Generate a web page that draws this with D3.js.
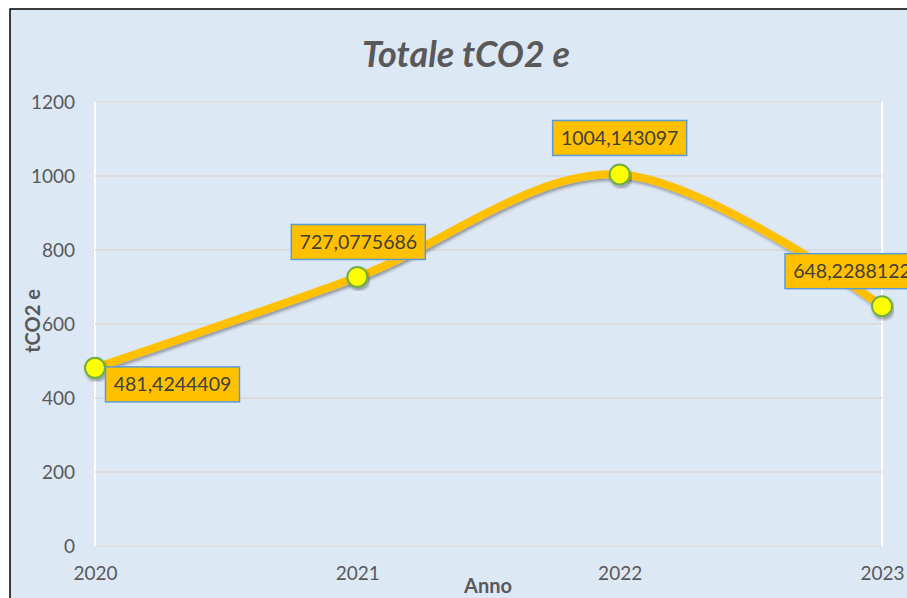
<!DOCTYPE html>
<html>
<head>
<meta charset="utf-8">
<script src="https://cdn.jsdelivr.net/npm/d3@7"></script>
<style>
  body { margin: 0; background: #fff; }
  text { font-family: Lato, "Open Sans", sans-serif; }
</style>
</head>
<body>
<div id="chart"></div>
<script>
var years = ["2020", "2021", "2022", "2023"];
var values = [481.4244409, 727.0775686, 1004.143097, 648.2288122];
var labels = ["481,4244409", "727,0775686", "1004,143097", "648,2288122"];
var yTicks = [0, 200, 400, 600, 800, 1000, 1200];

var W = 907, H = 598;
var margin = {top: 102, right: 25, bottom: 52, left: 95};
var width = W - margin.left - margin.right, height = H - margin.top - margin.bottom;

var svg = d3.select("#chart").append("svg").attr("width", W).attr("height", H);

var defs = svg.append("defs");
var f = defs.append("filter").attr("id", "shadow").attr("x", "-10%").attr("y", "-10%").attr("width", "120%").attr("height", "130%");
f.append("feDropShadow").attr("dx", 1.5).attr("dy", 2.5).attr("stdDeviation", 1.5).attr("flood-color", "#000").attr("flood-opacity", 0.35);

// chart area background with black border
svg.append("rect").attr("x", 10).attr("y", 9).attr("width", W).attr("height", H).attr("fill", "#dde8f5").attr("stroke", "#000").attr("stroke-width", 1.5);

svg.append("text").attr("x", 466).attr("y", 67).attr("text-anchor", "middle").attr("font-size", 36).attr("font-weight", "bold").attr("font-style", "italic").attr("fill", "#595959").text("Totale tCO2 e");

var g = svg.append("g").attr("transform", `translate(${margin.left},${margin.top})`);

var x = d3.scalePoint().domain(years).range([0, width]);
var y = d3.scaleLinear().domain([0, 1200]).range([height, 0]);

// plot area border (white)
g.append("rect").attr("x", 0).attr("y", 0).attr("width", width).attr("height", height).attr("fill", "none").attr("stroke", "#fff").attr("stroke-width", 2);

g.selectAll(".grid").data(yTicks).join("line").attr("class", "grid").attr("x1", 0).attr("x2", width).attr("y1", d => y(d)).attr("y2", d => y(d)).attr("stroke", "#d9d9d9").attr("stroke-width", 1.5);

var yAxis = g.append("g").call(d3.axisLeft(y).tickValues(yTicks).tickFormat(d3.format("d")).tickSize(0).tickPadding(20));
yAxis.select(".domain").remove();
yAxis.selectAll("text").attr("font-size", 19).attr("fill", "#595959").attr("font-family", "Lato, sans-serif");

var xAxis = g.append("g").attr("transform", `translate(0,${height})`).call(d3.axisBottom(x).tickSize(0).tickPadding(21));
xAxis.select(".domain").remove();
xAxis.selectAll("text").attr("font-size", 19).attr("fill", "#595959").attr("font-family", "Lato, sans-serif");

svg.append("text").attr("x", 488).attr("y", 593).attr("text-anchor", "middle").attr("font-size", 20).attr("font-weight", "bold").attr("fill", "#595959").attr("font-family", "Liberation Sans, Arial, sans-serif").text("Anno");
svg.append("text").attr("transform", "translate(40,321) rotate(-90)").attr("text-anchor", "middle").attr("font-size", 20).attr("font-weight", "bold").attr("fill", "#595959").attr("font-family", "Liberation Sans, Arial, sans-serif").text("tCO2 e");

var line = d3.line().x((d, i) => x(years[i])).y(d => y(d)).curve(d3.curveCardinal.tension(0));
g.append("path").datum(values).attr("d", line).attr("fill", "none").attr("stroke", "#ffc000").attr("stroke-width", 8).attr("stroke-linecap", "round").attr("filter", "url(#shadow)");

g.selectAll(".pt").data(values).join("circle").attr("class", "pt").attr("cx", (d, i) => x(years[i])).attr("cy", d => y(d)).attr("r", 10).attr("fill", "#ffff00").attr("stroke", "#70ad47").attr("stroke-width", 2).attr("filter", "url(#shadow)");

// data label offsets relative to point (box center)
var offs = [[77.5, 16.5], [1, -35], [0, -36.5], [-30, -35]];
var lbl = g.selectAll(".lbl").data(values).join("g").attr("class", "lbl").attr("transform", (d, i) => `translate(${x(years[i]) + offs[i][0]},${y(d) + offs[i][1]})`);
lbl.append("rect").attr("x", -67).attr("y", -17.5).attr("width", 134).attr("height", 35).attr("fill", "#ffc000").attr("stroke", "#5b9bd5").attr("stroke-width", 1.5);
lbl.append("text").attr("text-anchor", "middle").attr("dy", "0.36em").attr("font-size", 19.5).attr("fill", "#404040").text((d, i) => labels[i]);
</script>
</body>
</html>
